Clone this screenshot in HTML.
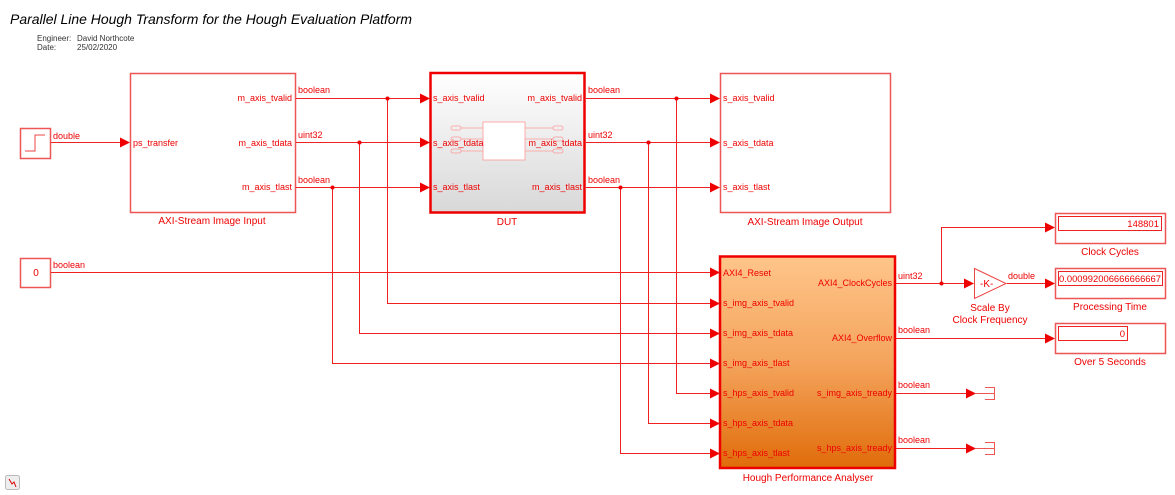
<!DOCTYPE html>
<html><head><meta charset="utf-8"><style>
html,body{margin:0;padding:0;background:#fff;width:1175px;height:495px;overflow:hidden}
svg{display:block;font-family:"Liberation Sans",sans-serif}
</style></head><body>
<svg width="1175" height="495" viewBox="0 0 1175 495" xmlns="http://www.w3.org/2000/svg">
<defs>
<linearGradient id="dut" x1="0" y1="0" x2="0" y2="1"><stop offset="0" stop-color="#ffffff"/><stop offset="1" stop-color="#d8d8d8"/></linearGradient>
<linearGradient id="org" x1="0" y1="0" x2="0" y2="1"><stop offset="0" stop-color="#ffc58a"/><stop offset="0.5" stop-color="#f4a45c"/><stop offset="1" stop-color="#e06c0a"/></linearGradient>
<marker id="ar" markerWidth="10" markerHeight="10" refX="9" refY="5" orient="auto" markerUnits="userSpaceOnUse"><path d="M0,0 L10,5 L0,10 z" fill="#e00"/></marker>
</defs>
<text x="10" y="24" font-size="14" font-style="italic" fill="#000" textLength="402" lengthAdjust="spacingAndGlyphs">Parallel Line Hough Transform for the Hough Evaluation Platform</text>
<g font-size="8" fill="#333"><text x="37" y="41">Engineer:</text><text x="77" y="41">David Northcote</text><text x="37" y="50">Date:</text><text x="77" y="50">25/02/2020</text></g>

<g fill="none" stroke="#e22" stroke-width="1">
<rect x="20.5" y="128.5" width="30" height="30" fill="#fff" stroke="#e55" stroke-width="1.5"/>
<path d="M25,151 H35 V135 H45" stroke="#e44"/>
<line x1="51" y1="142.5" x2="129" y2="142.5" marker-end="url(#ar)"/>
<rect x="20.5" y="258.5" width="30" height="29" fill="#fff" stroke="#e55" stroke-width="1.5"/>
<line x1="51" y1="272.5" x2="719" y2="272.5" marker-end="url(#ar)"/>
<rect x="130.5" y="73.5" width="165" height="139" fill="#fff" stroke="#e55" stroke-width="1.5"/>
<line x1="296" y1="98.5" x2="429" y2="98.5" marker-end="url(#ar)"/>
<line x1="296" y1="142.5" x2="429" y2="142.5" marker-end="url(#ar)"/>
<line x1="296" y1="187.5" x2="429" y2="187.5" marker-end="url(#ar)"/>
<path d="M387.5,98 V303.5 H719" marker-end="url(#ar)"/>
<path d="M359.5,142 V333.5 H719" marker-end="url(#ar)"/>
<path d="M332.5,187 V363.5 H719" marker-end="url(#ar)"/>
<rect x="430.5" y="73" width="154" height="139.5" fill="url(#dut)" stroke="#e00" stroke-width="2.5"/>
<g stroke="#f99" stroke-width="0.8"><rect x="483" y="122" width="42" height="38" fill="#fff"/>
<rect x="451" y="126" width="10" height="4" rx="2"/><rect x="451" y="137" width="10" height="4" rx="2"/><rect x="451" y="149" width="10" height="4" rx="2"/>
<rect x="553" y="126" width="10" height="4" rx="2"/><rect x="553" y="137" width="10" height="4" rx="2"/><rect x="553" y="149" width="10" height="4" rx="2"/>
<path d="M461,128 H483 M461,139 H483 M461,151 H483 M525,128 H553 M525,139 H553 M525,151 H553"/></g>
<line x1="586" y1="98.5" x2="719" y2="98.5" marker-end="url(#ar)"/>
<line x1="586" y1="142.5" x2="719" y2="142.5" marker-end="url(#ar)"/>
<line x1="586" y1="187.5" x2="719" y2="187.5" marker-end="url(#ar)"/>
<path d="M676.5,98 V393.5 H719" marker-end="url(#ar)"/>
<path d="M648.5,142 V423.5 H719" marker-end="url(#ar)"/>
<path d="M620.5,187 V453.5 H719" marker-end="url(#ar)"/>
<rect x="720.5" y="73.5" width="170" height="139" fill="#fff" stroke="#e55" stroke-width="1.5"/>
<rect x="720" y="256.5" width="175" height="211.5" fill="url(#org)" stroke="#e00" stroke-width="2.5"/>
<line x1="896" y1="283.5" x2="973" y2="283.5" marker-end="url(#ar)"/>
<path d="M941.5,283 V227.5 H1054" marker-end="url(#ar)"/>
<path d="M974.5,268.5 L1006,283.5 L974.5,298.5 Z" fill="#fff" stroke="#e44"/>
<line x1="1007" y1="283.5" x2="1054" y2="283.5" marker-end="url(#ar)"/>
<line x1="896" y1="338.5" x2="1054" y2="338.5" marker-end="url(#ar)"/>
<line x1="896" y1="393.5" x2="975" y2="393.5" marker-end="url(#ar)"/>
<line x1="896" y1="448.5" x2="975" y2="448.5" marker-end="url(#ar)"/>
<path d="M975,393.5 H995 M985,387.5 H994.5 V399.5 H985" stroke="#e55"/>
<path d="M975,448.5 H995 M985,442.5 H994.5 V454.5 H985" stroke="#e55"/>
<rect x="1055.5" y="213.5" width="110" height="30" fill="#fff" stroke="#e55" stroke-width="1.5"/>
<rect x="1058.5" y="216.5" width="103" height="14"/>
<rect x="1055.5" y="268.5" width="110" height="30" fill="#fff" stroke="#e55" stroke-width="1.5"/>
<rect x="1058.5" y="271.5" width="104" height="14"/>
<rect x="1055.5" y="323.5" width="110" height="30" fill="#fff" stroke="#e55" stroke-width="1.5"/>
<rect x="1058.5" y="326.5" width="69" height="14"/>
</g>
<g fill="#e00">
<circle cx="387.5" cy="98.5" r="2"/><circle cx="359.5" cy="142.5" r="2"/><circle cx="332.5" cy="187.5" r="2"/>
<circle cx="676.5" cy="98.5" r="2"/><circle cx="648.5" cy="142.5" r="2"/><circle cx="620.5" cy="187.5" r="2"/>
<circle cx="941.5" cy="283.5" r="2"/>
</g>
<g font-size="9" fill="#e00">
<text x="53" y="139">double</text><text x="53" y="268">boolean</text>
<text x="133" y="146">ps_transfer</text>
<text x="292" y="101" text-anchor="end">m_axis_tvalid</text>
<text x="292" y="146" text-anchor="end">m_axis_tdata</text>
<text x="292" y="190" text-anchor="end">m_axis_tlast</text>
<text x="298" y="93">boolean</text><text x="298" y="138">uint32</text><text x="298" y="183">boolean</text>
<text x="433" y="101">s_axis_tvalid</text><text x="433" y="146">s_axis_tdata</text><text x="433" y="190">s_axis_tlast</text>
<text x="582" y="101" text-anchor="end">m_axis_tvalid</text><text x="582" y="146" text-anchor="end">m_axis_tdata</text><text x="582" y="190" text-anchor="end">m_axis_tlast</text>
<text x="588" y="93">boolean</text><text x="588" y="138">uint32</text><text x="588" y="183">boolean</text>
<text x="723" y="101">s_axis_tvalid</text><text x="723" y="146">s_axis_tdata</text><text x="723" y="190">s_axis_tlast</text>
<text x="723" y="276">AXI4_Reset</text><text x="723" y="306">s_img_axis_tvalid</text><text x="723" y="336">s_img_axis_tdata</text><text x="723" y="366">s_img_axis_tlast</text>
<text x="723" y="396">s_hps_axis_tvalid</text><text x="723" y="426">s_hps_axis_tdata</text><text x="723" y="456">s_hps_axis_tlast</text>
<text x="892" y="286" text-anchor="end">AXI4_ClockCycles</text><text x="892" y="341" text-anchor="end">AXI4_Overflow</text>
<text x="892" y="396" text-anchor="end">s_img_axis_tready</text><text x="892" y="451" text-anchor="end">s_hps_axis_tready</text>
<text x="898" y="279">uint32</text><text x="898" y="333">boolean</text><text x="898" y="388">boolean</text><text x="898" y="443">boolean</text>
<text x="1008" y="279">double</text>
<text x="1159" y="227" text-anchor="end" font-size="9.5">148801</text>
<text x="1059" y="282" font-size="9.5" textLength="102" lengthAdjust="spacingAndGlyphs">0.000992006666666667</text>
<text x="1125" y="337" text-anchor="end" font-size="9.5">0</text>
<text x="980" y="287" font-size="10">-K-</text>
<text x="36" y="276" font-size="10" text-anchor="middle">0</text>
</g>
<g font-size="10" fill="#e00" text-anchor="middle">
<text x="212" y="224">AXI-Stream Image Input</text>
<text x="507" y="225">DUT</text>
<text x="805" y="225">AXI-Stream Image Output</text>
<text x="808" y="481">Hough Performance Analyser</text>
<text x="990" y="311">Scale By</text><text x="990" y="323">Clock Frequency</text>
<text x="1110" y="255">Clock Cycles</text><text x="1110" y="310">Processing Time</text><text x="1110" y="365">Over 5 Seconds</text>
</g>
<rect x="5.5" y="475.5" width="14" height="14" rx="2" fill="#eee" stroke="#bbb"/>
<path d="M9,479 L12,484 L14,482 L16,487" stroke="#d00" fill="none"/>
</svg>
</body></html>
